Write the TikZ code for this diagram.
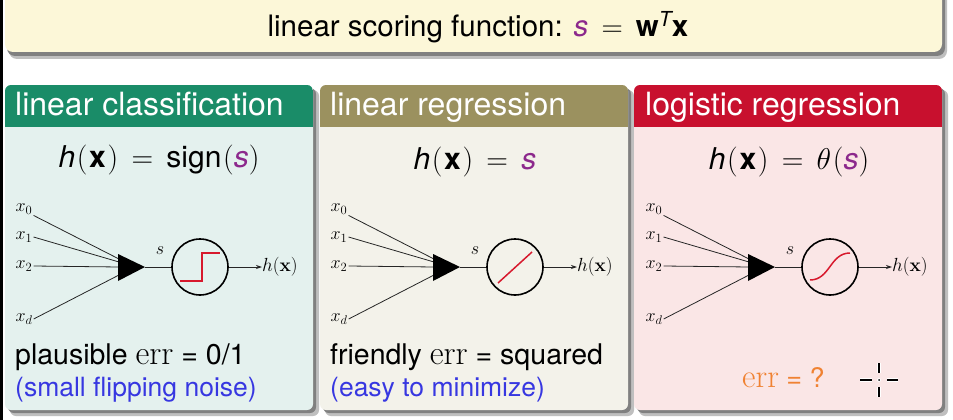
\RequirePackage{fix-cm}
\documentclass[tikz,border=0pt]{standalone}
\usepackage{amsmath}
\usepackage[no-math]{fontspec}
\setmainfont{TeX Gyre Heros}
\usetikzlibrary{arrows.meta}
\definecolor{titlebg}{HTML}{FCF7D8}
\definecolor{greenhead}{HTML}{1A8C68}
\definecolor{olivehead}{HTML}{9B915F}
\definecolor{redhead}{HTML}{C8102E}
\definecolor{greenbody}{HTML}{E4F1EE}
\definecolor{olivebody}{HTML}{F3F2EA}
\definecolor{redbody}{HTML}{FAE6E6}
\definecolor{mpurple}{HTML}{8C288C}
\definecolor{mblue}{HTML}{3737E1}
\definecolor{morange}{HTML}{F08232}
\definecolor{actred}{HTML}{D7192D}
\newcommand{\myfs}[1]{\fontsize{#1}{#1}\selectfont}
\newcommand{\sv}{\textcolor{mpurple}{\textit{s}}}
\newcommand{\errw}{{\myfs{34}$\mathrm{err}$}}
\newcommand{\hx}{\textit{h}\mkern1mu(\mkern1mu\textbf{x}\mkern1mu)\,=\,}
\tikzset{
  inlab/.style={font=\myfs{18}, inner sep=1pt},
  outlab/.style={font=\myfs{19}, inner sep=0pt, anchor=west},
  wire/.style={line width=0.8pt, black!85},
  actc/.style={draw, circle, line width=1.6pt, minimum size=56pt, inner sep=0pt},
  act/.style={line width=1.5pt, actred},
  headtxt/.style={font=\myfs{32}, text=white, anchor=base west, inner sep=0pt},
  formula/.style={font=\myfs{30}, anchor=base, inner sep=0pt},
  bodytxt/.style={font=\myfs{28.5}, anchor=base west, inner sep=0pt},
  notetxt/.style={font=\myfs{26.5}, text=mblue, anchor=base west, inner sep=0pt},
}
\newcommand{\neuron}[3]{%
\begin{scope}[xshift=#2]
  \node[inlab] (#1x0) at (24,209) {$x_0$};
  \node[inlab] (#1x1) at (24,237) {$x_1$};
  \node[inlab] (#1x2) at (24,266) {$x_2$};
  \node[inlab] (#1xd) at (24,319) {$x_d$};
  \coordinate (#1t0) at (119,259);
  \coordinate (#1t1) at (119,262);
  \coordinate (#1t2) at (119,267);
  \coordinate (#1td) at (119,275);
  \coordinate (#1ta) at (145,267);
  \draw[wire] (#1x0.south east) -- (#1t0);
  \draw[wire] (#1x1.east) -- (#1t1);
  \draw[wire] (#1x2.east) -- (#1t2);
  \draw[wire] (#1xd.east) -- (#1td);
  \fill (118,254) -- (#1ta) -- (118,281) -- cycle;
  \node[actc] (#1c) at (200,267) {};
  \draw[wire] (#1ta) -- (#1c);
  \node[inlab] (#1s) at (160,251) {$s$};
  \node[outlab] (#1h) at (262,267) {$h(\mathbf{x})$};
  \draw[wire,-{Stealth[length=6pt,width=4pt]}] (#1c) -- (#1h);
  #3
\end{scope}}
\newcommand{\panel}[3]{%
  \fill[black!25, rounded corners=6pt] (#1+5,90) rectangle (#1+314,416);
  \fill[black!50, rounded corners=6pt] (#1+3,88) rectangle (#1+311,413);
  \fill[#3, rounded corners=6pt] (#1,85) rectangle (#1+308,410);
  \begin{scope}
    \clip[rounded corners=6pt] (#1,85) rectangle (#1+308,410);
    \fill[#2] (#1,80) rectangle (#1+308,127);
  \end{scope}}
\begin{document}
\begin{tikzpicture}[x=1pt,y=-1pt]
\useasboundingbox (0,0) rectangle (953,420);
\fill[white] (0,0) rectangle (953,420);
\fill[black] (0,0) rectangle (3,420);
% title box
\fill[black!25, rounded corners=8pt] (9,-10) rectangle (947,59);
\fill[black!50, rounded corners=8pt] (7,-10) rectangle (945,56);
\fill[titlebg, rounded corners=8pt] (5,-10) rectangle (942,52);
\node[font=\myfs{29.5}, anchor=base, inner sep=0pt] (title) at (478,37)
  {linear scoring function: $\sv \,=\, \textbf{w}^{\textit{T}}\textbf{x}$};
% panels
\panel{5}{greenhead}{greenbody}
\panel{320}{olivehead}{olivebody}
\panel{634}{redhead}{redbody}
\node[headtxt] (h1) at (15,115) {linear classification};
\node[headtxt] (h2) at (330,115) {linear regression};
\node[headtxt] (h3) at (645,115) {logistic regression};
\node[formula] (f1) at (159,167) {$\hx\text{sign}\mkern1mu(\sv)$};
\node[formula] (f2) at (475,169) {$\hx\sv$};
\node[formula] (f3) at (789,169) {$\hx\theta\mkern1mu(\sv)$};
\neuron{a}{0}{\draw[act] (180,281) -- (202,281) -- (202,253) -- (220,253);}
\neuron{b}{315}{\draw[act] (183,283) -- (217,252);}
\neuron{c}{630}{\draw[act] (180,280) .. controls (200,280) and (200,253) .. (220,253);}
\node[bodytxt] (b1) at (15,364) {plausible \errw{} = 0/1};
\node[notetxt] (n1) at (15,396) {(small flipping noise)};
\node[bodytxt] (b2) at (330,364) {friendly \errw{} = squared};
\node[notetxt] (n2) at (330,396) {(easy to minimize)};
\node[bodytxt, text=morange, font=\myfs{27}] (b3) at (742,387) {{\myfs{33}$\mathrm{err}$} = ?};
% cursor
\coordinate (cur) at (879,380);
\foreach \a/\b in {{(860,380)}/{(872,380)},{(887,380)}/{(898,380)},{(879,363)}/{(879,373)},{(879,387)}/{(879,397)}}{
  \draw[white, line width=4pt] \a -- \b;
  \draw[black, line width=2pt] \a -- \b;}
\fill[white] (cur) circle (2pt);
\fill[black] (cur) circle (1pt);
\end{tikzpicture}
\end{document}
